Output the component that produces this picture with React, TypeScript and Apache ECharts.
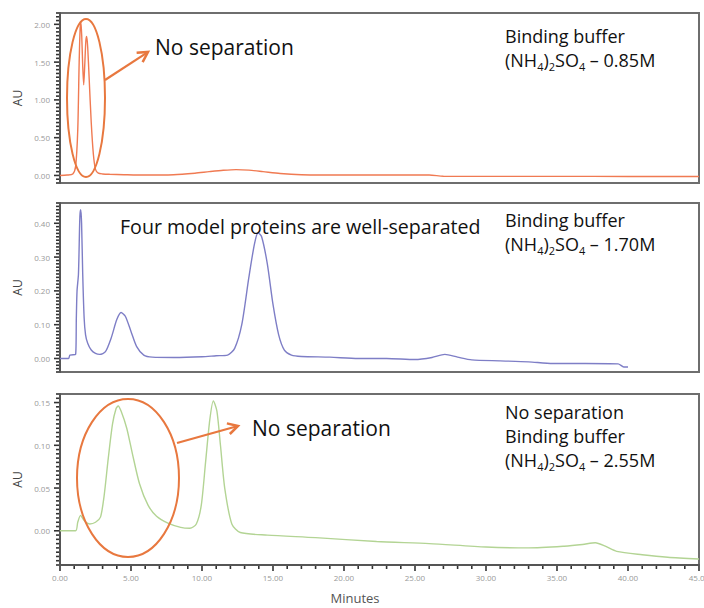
import React, { useEffect, useRef } from "react";
import * as echarts from "echarts";

// Panel 1: binding buffer 0.85 M
const time1 = [0, 0.5, 0.9, 1.1, 1.25, 1.35, 1.42, 1.47, 1.53, 1.6, 1.67, 1.74, 1.82, 1.88, 1.95, 2.05, 2.2, 2.35, 2.5, 2.7, 3.0, 3.5, 4.5, 6, 8, 9.5, 10.5, 11.5, 12.4, 13.3, 14.3, 15.5, 17, 20, 23, 26, 27, 30, 35, 40, 45];
const au1 = [0, 0.005, 0.02, 0.12, 0.6, 1.5, 1.95, 2.03, 1.85, 1.45, 1.2, 1.45, 1.78, 1.84, 1.7, 1.3, 0.7, 0.28, 0.08, 0.03, 0.02, 0.015, 0.01, 0.005, 0.01, 0.03, 0.05, 0.068, 0.077, 0.07, 0.05, 0.025, 0.01, 0.005, 0.005, 0.005, -0.01, -0.012, -0.012, -0.013, -0.013];

// Panel 2: binding buffer 1.70 M
const time2 = [0, 0.6, 0.7, 1.1, 1.15, 1.2, 1.3, 1.4, 1.46, 1.52, 1.6, 1.7, 1.8, 1.95, 2.2, 2.5, 2.8, 3.2, 3.6, 4.0, 4.3, 4.6, 5.0, 5.4, 5.9, 6.5, 8, 10, 11, 11.8, 12.3, 12.8, 13.3, 13.7, 13.95, 14.2, 14.6, 15.0, 15.4, 15.8, 16.3, 17, 19, 21, 23, 25, 26.2, 27.1, 28, 29, 31, 33, 34.7, 37, 39.3, 39.7, 40];
const au2 = [0, 0, 0.01, 0.012, 0.12, 0.2, 0.25, 0.42, 0.44, 0.4, 0.25, 0.12, 0.07, 0.045, 0.025, 0.015, 0.012, 0.02, 0.06, 0.115, 0.136, 0.125, 0.08, 0.035, 0.01, 0.004, 0.003, 0.005, 0.008, 0.01, 0.03, 0.1, 0.24, 0.34, 0.372, 0.36, 0.28, 0.16, 0.07, 0.025, 0.01, 0.006, 0.004, 0.0, 0.0, -0.003, 0.003, 0.012, 0.004, -0.004, -0.007, -0.01, -0.015, -0.015, -0.016, -0.025, -0.025];

// Panel 3: binding buffer 2.55 M
const time3 = [0, 1.1, 1.25, 1.45, 1.7, 2.1, 2.5, 2.85, 3.1, 3.4, 3.7, 3.95, 4.1, 4.3, 4.7, 5.1, 5.6, 6.2, 6.8, 7.6, 8.5, 9.15, 9.6, 9.95, 10.25, 10.55, 10.8, 11.05, 11.3, 11.6, 12.1, 12.7, 14.6, 18, 22.3, 26, 30, 33, 35.5, 36.8, 37.7, 38.4, 39.2, 41, 42.8, 45];
const au3 = [0, 0, 0.01, 0.018, 0.012, 0.008, 0.01, 0.016, 0.04, 0.085, 0.125, 0.143, 0.146, 0.14, 0.12, 0.09, 0.055, 0.03, 0.017, 0.009, 0.004, 0.003, 0.008, 0.03, 0.08, 0.13, 0.152, 0.14, 0.1, 0.05, 0.008, -0.002, -0.005, -0.008, -0.0126, -0.015, -0.019, -0.02, -0.018, -0.016, -0.014, -0.018, -0.024, -0.028, -0.031, -0.033];

// y axis ranges, tick steps and labelled steps
const yMin = [-0.1, -0.04, -0.04];
const yMax = [2.15, 0.46, 0.16];
const yTickStep = [0.05, 0.01, 0.005];
const yLabelStep = [0.5, 0.1, 0.05];
const xMax = 45;
const xLabelStep = 5;
const xTickStep = 1;

const buffers = ["0.85M", "1.70M", "2.55M"];

const FONT = "'Open Sans', 'Noto Sans', sans-serif";
const ORANGE = "#e8783f";
const AXIS = "#555555";

function isMultiple(v: number, step: number): boolean {
  const r = v / step;
  return Math.abs(r - Math.round(r)) < 1e-6;
}

function arrow(x1: number, y1: number, x2: number, y2: number): any[] {
  const dx = x2 - x1, dy = y2 - y1;
  const len = Math.sqrt(dx * dx + dy * dy);
  const ux = dx / len, uy = dy / len;
  const nx = -uy, ny = ux;
  const hl = 10, hw = 5.5;
  const bx = x2 - ux * hl, by = y2 - uy * hl;
  return [
    { type: "line", shape: { x1, y1, x2: x2 - ux * 2, y2: y2 - uy * 2 }, style: { stroke: ORANGE, lineWidth: 2.2 }, z: 10 },
    {
      type: "polyline",
      shape: { points: [[bx + nx * hw, by + ny * hw], [x2, y2], [bx - nx * hw, by - ny * hw]] },
      style: { stroke: ORANGE, lineWidth: 2.5, fill: "none", lineJoin: "miter" },
      z: 10,
    },
  ];
}

const rich = {
  n: { fontSize: 18, fontFamily: FONT, color: "#111", lineHeight: 24, verticalAlign: "middle" },
  s: { fontSize: 11, fontFamily: FONT, color: "#111", lineHeight: 12, verticalAlign: "bottom" },
};

function bufferText(x: number, y: number, conc: string, extra?: string): any {
  const lines: string[] = [];
  if (extra) lines.push("{n|" + extra + "}");
  lines.push("{n|Binding buffer}");
  lines.push("{n|(NH}{s|4}{n|)}{s|2}{n|SO}{s|4}{n| – " + conc + "}");
  return {
    type: "text",
    x,
    y,
    style: { text: lines.join("\n"), rich, fill: "#111", font: "18px " + FONT },
    z: 10,
  };
}

function bigText(x: number, y: number, text: string, size: number): any {
  return {
    type: "text",
    x,
    y,
    style: { text, fill: "#111", font: size + "px " + FONT, verticalAlign: "middle" },
    z: 10,
  };
}

export default function App() {
  const ref = useRef<HTMLDivElement>(null);
  useEffect(() => {
    if (!ref.current) return;
    const chart = echarts.init(ref.current, undefined, { renderer: "svg" });

    const grids = [
      { left: 60, right: 5, top: 13, height: 170 },
      { left: 60, right: 5, top: 203, height: 169 },
      { left: 60, right: 5, top: 394, height: 171 },
    ].map((g) => ({
      ...g,
      show: true,
      borderColor: "#6e6e6e",
      borderWidth: 2,
      outerBoundsMode: "none",
    }));

    const yAxes = [0, 1, 2].map((i) => ({
      type: "value",
      gridIndex: i,
      min: yMin[i],
      max: yMax[i],
      interval: yTickStep[i],
      name: "AU",
      nameLocation: "middle",
      nameGap: 33,
      nameRotate: 90,
      nameTextStyle: { fontFamily: FONT, fontSize: 12, color: "#444" },
      axisLine: { show: true, onZero: false, lineStyle: { color: AXIS, width: 2 } },
      axisTick: { show: false },
      axisLabel: {
        show: true,
        formatter: (v: number) => (isMultiple(v, yLabelStep[i]) && v >= 0 ? v.toFixed(2) : ""),
        fontFamily: FONT,
        fontSize: 8,
        color: "#999",
        margin: 10,
        hideOverlap: false,
      },
      splitLine: { show: false },
    }));

    const xAxes = [0, 1, 2].map((i) => ({
      type: "value",
      gridIndex: i,
      min: 0,
      max: xMax,
      interval: xLabelStep,
      show: i === 2,
      axisLine: { show: true, onZero: false, lineStyle: { color: AXIS, width: 2 } },
      axisTick: { show: false },
      axisLabel: {
        show: true,
        formatter: (v: number) => v.toFixed(2),
        fontFamily: FONT,
        fontSize: 8,
        color: "#999",
        margin: 8,
        hideOverlap: false,
      },
      splitLine: { show: false },
    }));

    const mk = (t: number[], v: number[]) => t.map((x, k) => [x, v[k]]);

    const series = [
      { data: mk(time1, au1), color: "#f07a52" },
      { data: mk(time2, au2), color: "#7e7ec6" },
      { data: mk(time3, au3), color: "#b3d494" },
    ].map((s, i) => ({
      type: "line",
      xAxisIndex: i,
      yAxisIndex: i,
      data: s.data,
      showSymbol: false,
      smooth: 0.25,
      lineStyle: { color: s.color, width: 1.4 },
      z: 3,
    }));

    const annotations: any[] = [
      // panel 1 annotations
      { type: "ellipse", shape: { cx: 86, cy: 98, rx: 19, ry: 79 }, style: { fill: "none", stroke: ORANGE, lineWidth: 2 }, z: 10 },
      ...arrow(105, 80, 148, 52),
      bigText(155, 47, "No separation", 21),
      bufferText(505, 24, buffers[0]),
      // panel 2
      bigText(120, 226, "Four model proteins are well-separated", 19.6),
      bufferText(505, 208, buffers[1]),
      // panel 3
      { type: "ellipse", shape: { cx: 128, cy: 478, rx: 51, ry: 79 }, style: { fill: "none", stroke: ORANGE, lineWidth: 2 }, z: 10 },
      ...arrow(177, 443, 238, 426),
      bigText(252, 428, "No separation", 21),
      bufferText(505, 400, buffers[2], "No separation"),
      // x axis title
      {
        type: "text",
        x: 355,
        y: 598,
        style: { text: "Minutes", fill: "#555", font: "13px " + FONT, align: "center", verticalAlign: "middle" },
      },
    ];

    chart.setOption({
      animation: false,
      backgroundColor: "#fff",
      grid: grids,
      xAxis: xAxes,
      yAxis: yAxes,
      series,
    });

    // axis tick marks, positioned through each series' own axes
    const ticks: any[] = [];
    const tickStyle = { stroke: "#333", lineWidth: 1.6 };
    for (let i = 0; i < 3; i++) {
      const n = Math.floor((yMax[i] - yMin[i]) / yTickStep[i] + 1e-6);
      for (let k = 0; k <= n; k++) {
        const v = yMin[i] + k * yTickStep[i];
        const p = chart.convertToPixel({ seriesIndex: i } as any, [0, v]) as number[];
        if (!p || isNaN(p[0]) || isNaN(p[1])) continue;
        const len = isMultiple(v, yLabelStep[i]) ? 6 : 4;
        ticks.push({ type: "line", z: 20, shape: { x1: p[0] - len, y1: p[1], x2: p[0] - 1, y2: p[1] }, style: tickStyle, silent: true });
      }
    }
    const nx = Math.round(xMax / xTickStep);
    for (let k = 0; k <= nx; k++) {
      const t = k * xTickStep;
      const p = chart.convertToPixel({ seriesIndex: 2 } as any, [t, yMin[2]]) as number[];
      if (!p || isNaN(p[0]) || isNaN(p[1])) continue;
      const len = isMultiple(t, xLabelStep) ? 6 : 4;
      ticks.push({ type: "line", z: 20, shape: { x1: p[0], y1: p[1] + 1, x2: p[0], y2: p[1] + len }, style: tickStyle, silent: true });
    }

    chart.setOption({ graphic: [...annotations, ...ticks] });
    return () => chart.dispose();
  }, []);
  return <div ref={ref} style={{ width: 704, height: 608, position: "absolute", left: 0, top: 0 }} />;
}
